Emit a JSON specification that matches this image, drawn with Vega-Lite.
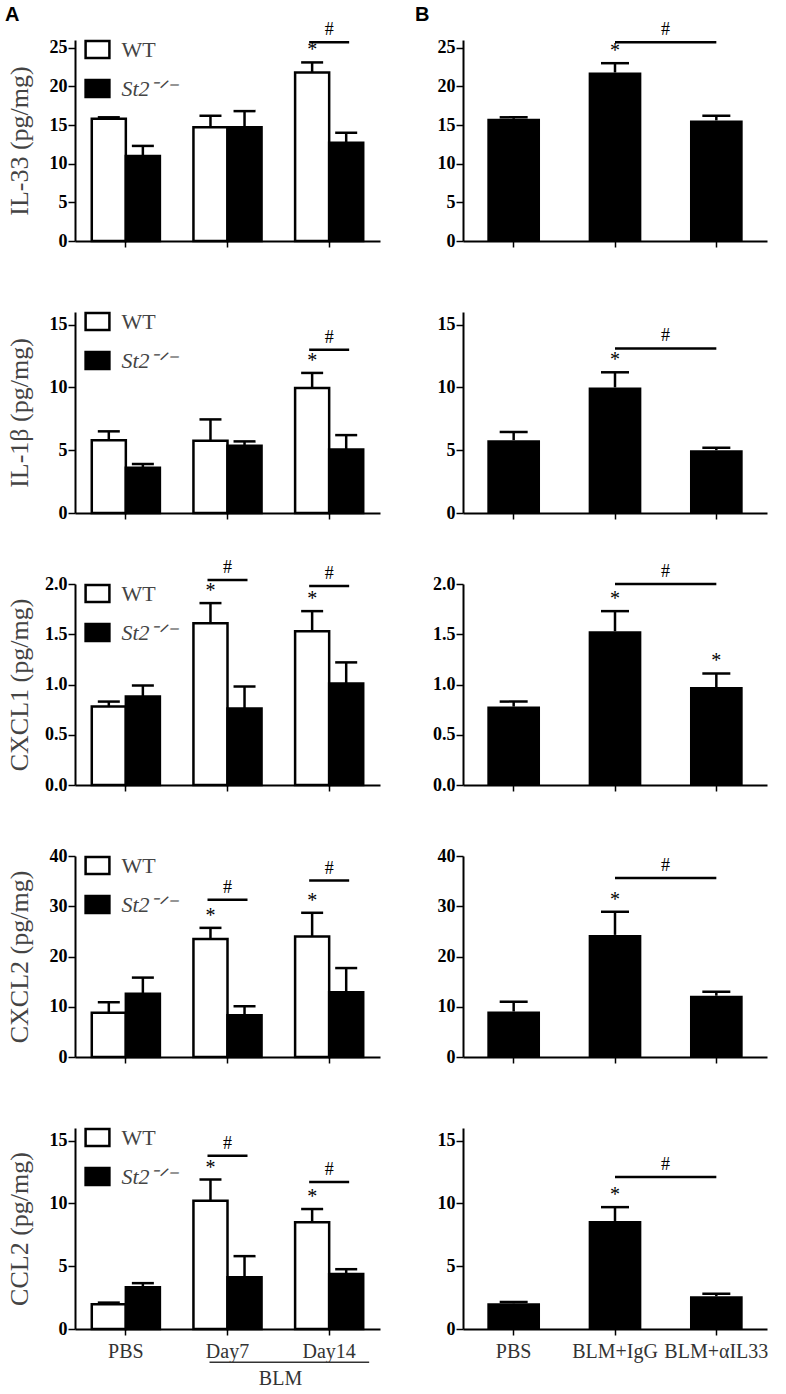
{
"$schema": "https://vega.github.io/schema/vega-lite/v6.json",
"padding": 5,
"background": "white",
"config": {
  "view": {"stroke": null},
  "font": "Liberation Serif",
  "tick": {"opacity": 1},
  "axis": {"domainColor": "black", "domainWidth": 2, "tickColor": "black", "tickWidth": 1.5, "grid": false, "labelFont": "Liberation Serif", "titleFont": "Liberation Serif", "titleFontWeight": "normal"},
  "axisY": {"tickSize": 7, "labelPadding": 1, "labelFontSize": 18, "labelFontWeight": "bold", "labelColor": "black", "titleFontSize": 26, "titleColor": "#444", "titleX": -48, "titleBaseline": "alphabetic"},
  "axisX": {"tickSize": 6, "labelPadding": 6, "labelFontSize": 20, "labelColor": "#333", "labelAngle": 0, "labels": false, "titleFontSize": 20, "titleColor": "#333"},
  "legend": {"symbolType": "M-1.4,-1H1.4V1H-1.4Z", "symbolSize": 289, "symbolStrokeColor": "black", "symbolStrokeWidth": 2.5, "labelFont": "Liberation Serif", "labelFontSize": 22, "labelColor": "#444", "labelOffset": 13, "rowPadding": 11, "padding": 0},
  "title": {"font": "Liberation Sans", "fontSize": 20, "fontWeight": "bold", "color": "black", "anchor": "start", "frame": "group"}
},
"datasets": {
  "il33A": [
    {"cat": "PBS", "grp": "WT", "mean": 15.8, "upper": 16.0, "sig": ""},
    {"cat": "PBS", "grp": "St2-/-", "mean": 11.0, "upper": 12.3, "sig": ""},
    {"cat": "Day7", "grp": "WT", "mean": 14.7, "upper": 16.2, "sig": ""},
    {"cat": "Day7", "grp": "St2-/-", "mean": 14.7, "upper": 16.8, "sig": ""},
    {"cat": "Day14", "grp": "WT", "mean": 21.8, "upper": 23.1, "sig": "*"},
    {"cat": "Day14", "grp": "St2-/-", "mean": 12.7, "upper": 14.0, "sig": ""}
  ],
  "il33Asig": [{"cat": "Day14", "y": 25.7, "sig": "#"}],
  "il33B": [
    {"cat": "PBS", "mean": 15.8, "upper": 16.0, "sig": ""},
    {"cat": "BLM+IgG", "mean": 21.8, "upper": 23.0, "sig": "*"},
    {"cat": "BLM+αIL33", "mean": 15.6, "upper": 16.2, "sig": ""}
  ],
  "il33Bsig": [{"from": "BLM+IgG", "to": "BLM+αIL33", "y": 25.7, "sig": "#"}],
  "il1bA": [
    {"cat": "PBS", "grp": "WT", "mean": 5.8, "upper": 6.5, "sig": ""},
    {"cat": "PBS", "grp": "St2-/-", "mean": 3.6, "upper": 3.9, "sig": ""},
    {"cat": "Day7", "grp": "WT", "mean": 5.75, "upper": 7.45, "sig": ""},
    {"cat": "Day7", "grp": "St2-/-", "mean": 5.35, "upper": 5.7, "sig": ""},
    {"cat": "Day14", "grp": "WT", "mean": 9.95, "upper": 11.15, "sig": "*"},
    {"cat": "Day14", "grp": "St2-/-", "mean": 5.05, "upper": 6.2, "sig": ""}
  ],
  "il1bAsig": [{"cat": "Day14", "y": 13.0, "sig": "#"}],
  "il1bB": [
    {"cat": "PBS", "mean": 5.8, "upper": 6.45, "sig": ""},
    {"cat": "BLM+IgG", "mean": 10.0, "upper": 11.2, "sig": "*"},
    {"cat": "BLM+αIL33", "mean": 5.0, "upper": 5.2, "sig": ""}
  ],
  "il1bBsig": [{"from": "BLM+IgG", "to": "BLM+αIL33", "y": 13.1, "sig": "#"}],
  "cxcl1A": [
    {"cat": "PBS", "grp": "WT", "mean": 0.78, "upper": 0.83, "sig": ""},
    {"cat": "PBS", "grp": "St2-/-", "mean": 0.88, "upper": 0.99, "sig": ""},
    {"cat": "Day7", "grp": "WT", "mean": 1.61, "upper": 1.81, "sig": "*"},
    {"cat": "Day7", "grp": "St2-/-", "mean": 0.76, "upper": 0.98, "sig": ""},
    {"cat": "Day14", "grp": "WT", "mean": 1.53, "upper": 1.73, "sig": "*"},
    {"cat": "Day14", "grp": "St2-/-", "mean": 1.01, "upper": 1.22, "sig": ""}
  ],
  "cxcl1Asig": [{"cat": "Day7", "y": 2.04, "sig": "#"}, {"cat": "Day14", "y": 1.98, "sig": "#"}],
  "cxcl1B": [
    {"cat": "PBS", "mean": 0.78, "upper": 0.83, "sig": ""},
    {"cat": "BLM+IgG", "mean": 1.53, "upper": 1.73, "sig": "*"},
    {"cat": "BLM+αIL33", "mean": 0.975, "upper": 1.11, "sig": "*"}
  ],
  "cxcl1Bsig": [{"from": "BLM+IgG", "to": "BLM+αIL33", "y": 2.0, "sig": "#"}],
  "cxcl2A": [
    {"cat": "PBS", "grp": "WT", "mean": 8.8, "upper": 10.9, "sig": ""},
    {"cat": "PBS", "grp": "St2-/-", "mean": 12.6, "upper": 15.8, "sig": ""},
    {"cat": "Day7", "grp": "WT", "mean": 23.5, "upper": 25.7, "sig": "*"},
    {"cat": "Day7", "grp": "St2-/-", "mean": 8.3, "upper": 10.1, "sig": ""},
    {"cat": "Day14", "grp": "WT", "mean": 24.0, "upper": 28.7, "sig": "*"},
    {"cat": "Day14", "grp": "St2-/-", "mean": 12.9, "upper": 17.7, "sig": ""}
  ],
  "cxcl2Asig": [{"cat": "Day7", "y": 31.3, "sig": "#"}, {"cat": "Day14", "y": 35.1, "sig": "#"}],
  "cxcl2B": [
    {"cat": "PBS", "mean": 9.05, "upper": 11.0, "sig": ""},
    {"cat": "BLM+IgG", "mean": 24.3, "upper": 28.9, "sig": "*"},
    {"cat": "BLM+αIL33", "mean": 12.2, "upper": 13.0, "sig": ""}
  ],
  "cxcl2Bsig": [{"from": "BLM+IgG", "to": "BLM+αIL33", "y": 35.6, "sig": "#"}],
  "ccl2A": [
    {"cat": "PBS", "grp": "WT", "mean": 1.97, "upper": 2.1, "sig": ""},
    {"cat": "PBS", "grp": "St2-/-", "mean": 3.33, "upper": 3.65, "sig": ""},
    {"cat": "Day7", "grp": "WT", "mean": 10.2, "upper": 11.9, "sig": "*"},
    {"cat": "Day7", "grp": "St2-/-", "mean": 4.12, "upper": 5.8, "sig": ""},
    {"cat": "Day14", "grp": "WT", "mean": 8.5, "upper": 9.55, "sig": "*"},
    {"cat": "Day14", "grp": "St2-/-", "mean": 4.37, "upper": 4.76, "sig": ""}
  ],
  "ccl2Asig": [{"cat": "Day7", "y": 13.8, "sig": "#"}, {"cat": "Day14", "y": 11.7, "sig": "#"}],
  "ccl2B": [
    {"cat": "PBS", "mean": 2.05, "upper": 2.15, "sig": ""},
    {"cat": "BLM+IgG", "mean": 8.6, "upper": 9.7, "sig": "*"},
    {"cat": "BLM+αIL33", "mean": 2.6, "upper": 2.8, "sig": ""}
  ],
  "ccl2Bsig": [{"from": "BLM+IgG", "to": "BLM+αIL33", "y": 12.1, "sig": "#"}]
},
"columns": 2,
"bounds": "flush",
"spacing": {"row": 71, "column": 83},
"resolve": {"scale": {"fill": "independent"}, "legend": {"fill": "independent"}},
"concat": [
  {
    "width": 305, "height": 201,
    "title": {"text": "A", "dx": -70, "offset": -4},
    "data": {"name": "il33A"},
    "encoding": {"x": {"field": "cat", "type": "nominal", "scale": {"domain": ["PBS", "Day7", "Day14"], "paddingInner": 0.33, "paddingOuter": 0.165}, "axis": {"title": null}}},
    "layer": [
      {"mark": {"type": "bar", "stroke": "black", "strokeWidth": 2.5},
       "encoding": {
         "xOffset": {"field": "grp", "type": "nominal", "scale": {"domain": ["WT", "St2-/-"]}},
         "y": {"field": "mean", "type": "quantitative", "scale": {"domain": [0, 25]}, "axis": {"values": [0, 5, 10, 15, 20, 25], "title": "IL-33 (pg/mg)"}},
         "fill": {"field": "grp", "type": "nominal", "scale": {"domain": ["WT", "St2-/-"], "range": ["white", "black"]},
           "legend": {"orient": "none", "legendX": 11.5, "legendY": -1.5, "direction": "vertical", "title": null, "labelExpr": "datum.value == 'WT' ? 'WT' : 'St2⁻ᐟ⁻'", "labelFontStyle": {"expr": "datum.value == 'WT' ? 'normal' : 'italic'"}}}}},
      {"mark": {"type": "rule", "color": "black", "strokeWidth": 2.5},
       "encoding": {"xOffset": {"field": "grp", "type": "nominal"}, "y": {"field": "mean", "type": "quantitative"}, "y2": {"field": "upper"}}},
      {"mark": {"type": "tick", "color": "black", "orient": "horizontal", "size": 22, "thickness": 2.5},
       "encoding": {"xOffset": {"field": "grp", "type": "nominal"}, "y": {"field": "upper", "type": "quantitative"}}},
      {"mark": {"type": "text", "fontSize": 20, "dy": -12, "baseline": "middle", "color": "black"},
       "encoding": {"xOffset": {"field": "grp", "type": "nominal"}, "y": {"field": "upper", "type": "quantitative"}, "text": {"field": "sig"}}},
      {"data": {"name": "il33Asig"}, "mark": {"type": "tick", "color": "black", "orient": "horizontal", "size": 40, "thickness": 2.5},
       "encoding": {"y": {"field": "y", "type": "quantitative"}}},
      {"data": {"name": "il33Asig"}, "mark": {"type": "text", "fontSize": 18, "dy": -12, "baseline": "middle", "color": "black"},
       "encoding": {"y": {"field": "y", "type": "quantitative"}, "text": {"field": "sig"}}}
    ]
  },
  {
    "width": 304, "height": 201,
    "title": {"text": "B", "dx": -48, "offset": -4},
    "data": {"name": "il33B"},
    "encoding": {"x": {"field": "cat", "type": "nominal", "scale": {"domain": ["PBS", "BLM+IgG", "BLM+αIL33"], "paddingInner": 0.48, "paddingOuter": 0.24}, "axis": {"title": null}}},
    "layer": [
      {"mark": {"type": "bar", "color": "black"},
       "encoding": {"y": {"field": "mean", "type": "quantitative", "scale": {"domain": [0, 25]}, "axis": {"values": [0, 5, 10, 15, 20, 25], "title": null}}}},
      {"mark": {"type": "rule", "color": "black", "strokeWidth": 2.5},
       "encoding": {"y": {"field": "mean", "type": "quantitative"}, "y2": {"field": "upper"}}},
      {"mark": {"type": "tick", "color": "black", "orient": "horizontal", "size": 28, "thickness": 2.5},
       "encoding": {"y": {"field": "upper", "type": "quantitative"}}},
      {"mark": {"type": "text", "fontSize": 20, "dy": -12, "baseline": "middle", "color": "black"},
       "encoding": {"y": {"field": "upper", "type": "quantitative"}, "text": {"field": "sig"}}},
      {"data": {"name": "il33Bsig"}, "mark": {"type": "rule", "color": "black", "strokeWidth": 2.5},
       "encoding": {"x": {"field": "from", "type": "nominal"}, "x2": {"field": "to"}, "y": {"field": "y", "type": "quantitative"}}},
      {"data": {"name": "il33Bsig"}, "mark": {"type": "text", "fontSize": 18, "dy": -12, "dx": 50.5, "baseline": "middle", "color": "black"},
       "encoding": {"x": {"field": "from", "type": "nominal"}, "y": {"field": "y", "type": "quantitative"}, "text": {"field": "sig"}}}
    ]
  },
  {
    "width": 305, "height": 201,
    "data": {"name": "il1bA"},
    "encoding": {"x": {"field": "cat", "type": "nominal", "scale": {"domain": ["PBS", "Day7", "Day14"], "paddingInner": 0.33, "paddingOuter": 0.165}, "axis": {"title": null}}},
    "layer": [
      {"mark": {"type": "bar", "stroke": "black", "strokeWidth": 2.5},
       "encoding": {
         "xOffset": {"field": "grp", "type": "nominal", "scale": {"domain": ["WT", "St2-/-"]}},
         "y": {"field": "mean", "type": "quantitative", "scale": {"domain": [0, 15]}, "axis": {"values": [0, 5, 10, 15], "title": "IL-1β (pg/mg)"}},
         "fill": {"field": "grp", "type": "nominal", "scale": {"domain": ["WT", "St2-/-"], "range": ["white", "black"]},
           "legend": {"orient": "none", "legendX": 11.5, "legendY": -1.5, "direction": "vertical", "title": null, "labelExpr": "datum.value == 'WT' ? 'WT' : 'St2⁻ᐟ⁻'", "labelFontStyle": {"expr": "datum.value == 'WT' ? 'normal' : 'italic'"}}}}},
      {"mark": {"type": "rule", "color": "black", "strokeWidth": 2.5},
       "encoding": {"xOffset": {"field": "grp", "type": "nominal"}, "y": {"field": "mean", "type": "quantitative"}, "y2": {"field": "upper"}}},
      {"mark": {"type": "tick", "color": "black", "orient": "horizontal", "size": 22, "thickness": 2.5},
       "encoding": {"xOffset": {"field": "grp", "type": "nominal"}, "y": {"field": "upper", "type": "quantitative"}}},
      {"mark": {"type": "text", "fontSize": 20, "dy": -12, "baseline": "middle", "color": "black"},
       "encoding": {"xOffset": {"field": "grp", "type": "nominal"}, "y": {"field": "upper", "type": "quantitative"}, "text": {"field": "sig"}}},
      {"data": {"name": "il1bAsig"}, "mark": {"type": "tick", "color": "black", "orient": "horizontal", "size": 40, "thickness": 2.5},
       "encoding": {"y": {"field": "y", "type": "quantitative"}}},
      {"data": {"name": "il1bAsig"}, "mark": {"type": "text", "fontSize": 18, "dy": -12, "baseline": "middle", "color": "black"},
       "encoding": {"y": {"field": "y", "type": "quantitative"}, "text": {"field": "sig"}}}
    ]
  },
  {
    "width": 304, "height": 201,
    "data": {"name": "il1bB"},
    "encoding": {"x": {"field": "cat", "type": "nominal", "scale": {"domain": ["PBS", "BLM+IgG", "BLM+αIL33"], "paddingInner": 0.48, "paddingOuter": 0.24}, "axis": {"title": null}}},
    "layer": [
      {"mark": {"type": "bar", "color": "black"},
       "encoding": {"y": {"field": "mean", "type": "quantitative", "scale": {"domain": [0, 15]}, "axis": {"values": [0, 5, 10, 15], "title": null}}}},
      {"mark": {"type": "rule", "color": "black", "strokeWidth": 2.5},
       "encoding": {"y": {"field": "mean", "type": "quantitative"}, "y2": {"field": "upper"}}},
      {"mark": {"type": "tick", "color": "black", "orient": "horizontal", "size": 28, "thickness": 2.5},
       "encoding": {"y": {"field": "upper", "type": "quantitative"}}},
      {"mark": {"type": "text", "fontSize": 20, "dy": -12, "baseline": "middle", "color": "black"},
       "encoding": {"y": {"field": "upper", "type": "quantitative"}, "text": {"field": "sig"}}},
      {"data": {"name": "il1bBsig"}, "mark": {"type": "rule", "color": "black", "strokeWidth": 2.5},
       "encoding": {"x": {"field": "from", "type": "nominal"}, "x2": {"field": "to"}, "y": {"field": "y", "type": "quantitative"}}},
      {"data": {"name": "il1bBsig"}, "mark": {"type": "text", "fontSize": 18, "dy": -12, "dx": 50.5, "baseline": "middle", "color": "black"},
       "encoding": {"x": {"field": "from", "type": "nominal"}, "y": {"field": "y", "type": "quantitative"}, "text": {"field": "sig"}}}
    ]
  },
  {
    "width": 305, "height": 201,
    "data": {"name": "cxcl1A"},
    "encoding": {"x": {"field": "cat", "type": "nominal", "scale": {"domain": ["PBS", "Day7", "Day14"], "paddingInner": 0.33, "paddingOuter": 0.165}, "axis": {"title": null}}},
    "layer": [
      {"mark": {"type": "bar", "stroke": "black", "strokeWidth": 2.5},
       "encoding": {
         "xOffset": {"field": "grp", "type": "nominal", "scale": {"domain": ["WT", "St2-/-"]}},
         "y": {"field": "mean", "type": "quantitative", "scale": {"domain": [0, 2]}, "axis": {"values": [0, 0.5, 1, 1.5, 2], "format": ".1f", "title": "CXCL1 (pg/mg)"}},
         "fill": {"field": "grp", "type": "nominal", "scale": {"domain": ["WT", "St2-/-"], "range": ["white", "black"]},
           "legend": {"orient": "none", "legendX": 11.5, "legendY": -1.5, "direction": "vertical", "title": null, "labelExpr": "datum.value == 'WT' ? 'WT' : 'St2⁻ᐟ⁻'", "labelFontStyle": {"expr": "datum.value == 'WT' ? 'normal' : 'italic'"}}}}},
      {"mark": {"type": "rule", "color": "black", "strokeWidth": 2.5},
       "encoding": {"xOffset": {"field": "grp", "type": "nominal"}, "y": {"field": "mean", "type": "quantitative"}, "y2": {"field": "upper"}}},
      {"mark": {"type": "tick", "color": "black", "orient": "horizontal", "size": 22, "thickness": 2.5},
       "encoding": {"xOffset": {"field": "grp", "type": "nominal"}, "y": {"field": "upper", "type": "quantitative"}}},
      {"mark": {"type": "text", "fontSize": 20, "dy": -12, "baseline": "middle", "color": "black"},
       "encoding": {"xOffset": {"field": "grp", "type": "nominal"}, "y": {"field": "upper", "type": "quantitative"}, "text": {"field": "sig"}}},
      {"data": {"name": "cxcl1Asig"}, "mark": {"type": "tick", "color": "black", "orient": "horizontal", "size": 40, "thickness": 2.5},
       "encoding": {"y": {"field": "y", "type": "quantitative"}}},
      {"data": {"name": "cxcl1Asig"}, "mark": {"type": "text", "fontSize": 18, "dy": -12, "baseline": "middle", "color": "black"},
       "encoding": {"y": {"field": "y", "type": "quantitative"}, "text": {"field": "sig"}}}
    ]
  },
  {
    "width": 304, "height": 201,
    "data": {"name": "cxcl1B"},
    "encoding": {"x": {"field": "cat", "type": "nominal", "scale": {"domain": ["PBS", "BLM+IgG", "BLM+αIL33"], "paddingInner": 0.48, "paddingOuter": 0.24}, "axis": {"title": null}}},
    "layer": [
      {"mark": {"type": "bar", "color": "black"},
       "encoding": {"y": {"field": "mean", "type": "quantitative", "scale": {"domain": [0, 2]}, "axis": {"values": [0, 0.5, 1, 1.5, 2], "format": ".1f", "title": null}}}},
      {"mark": {"type": "rule", "color": "black", "strokeWidth": 2.5},
       "encoding": {"y": {"field": "mean", "type": "quantitative"}, "y2": {"field": "upper"}}},
      {"mark": {"type": "tick", "color": "black", "orient": "horizontal", "size": 28, "thickness": 2.5},
       "encoding": {"y": {"field": "upper", "type": "quantitative"}}},
      {"mark": {"type": "text", "fontSize": 20, "dy": -12, "baseline": "middle", "color": "black"},
       "encoding": {"y": {"field": "upper", "type": "quantitative"}, "text": {"field": "sig"}}},
      {"data": {"name": "cxcl1Bsig"}, "mark": {"type": "rule", "color": "black", "strokeWidth": 2.5},
       "encoding": {"x": {"field": "from", "type": "nominal"}, "x2": {"field": "to"}, "y": {"field": "y", "type": "quantitative"}}},
      {"data": {"name": "cxcl1Bsig"}, "mark": {"type": "text", "fontSize": 18, "dy": -12, "dx": 50.5, "baseline": "middle", "color": "black"},
       "encoding": {"x": {"field": "from", "type": "nominal"}, "y": {"field": "y", "type": "quantitative"}, "text": {"field": "sig"}}}
    ]
  },
  {
    "width": 305, "height": 201,
    "data": {"name": "cxcl2A"},
    "encoding": {"x": {"field": "cat", "type": "nominal", "scale": {"domain": ["PBS", "Day7", "Day14"], "paddingInner": 0.33, "paddingOuter": 0.165}, "axis": {"title": null}}},
    "layer": [
      {"mark": {"type": "bar", "stroke": "black", "strokeWidth": 2.5},
       "encoding": {
         "xOffset": {"field": "grp", "type": "nominal", "scale": {"domain": ["WT", "St2-/-"]}},
         "y": {"field": "mean", "type": "quantitative", "scale": {"domain": [0, 40]}, "axis": {"values": [0, 10, 20, 30, 40], "title": "CXCL2 (pg/mg)"}},
         "fill": {"field": "grp", "type": "nominal", "scale": {"domain": ["WT", "St2-/-"], "range": ["white", "black"]},
           "legend": {"orient": "none", "legendX": 11.5, "legendY": -1.5, "direction": "vertical", "title": null, "labelExpr": "datum.value == 'WT' ? 'WT' : 'St2⁻ᐟ⁻'", "labelFontStyle": {"expr": "datum.value == 'WT' ? 'normal' : 'italic'"}}}}},
      {"mark": {"type": "rule", "color": "black", "strokeWidth": 2.5},
       "encoding": {"xOffset": {"field": "grp", "type": "nominal"}, "y": {"field": "mean", "type": "quantitative"}, "y2": {"field": "upper"}}},
      {"mark": {"type": "tick", "color": "black", "orient": "horizontal", "size": 22, "thickness": 2.5},
       "encoding": {"xOffset": {"field": "grp", "type": "nominal"}, "y": {"field": "upper", "type": "quantitative"}}},
      {"mark": {"type": "text", "fontSize": 20, "dy": -12, "baseline": "middle", "color": "black"},
       "encoding": {"xOffset": {"field": "grp", "type": "nominal"}, "y": {"field": "upper", "type": "quantitative"}, "text": {"field": "sig"}}},
      {"data": {"name": "cxcl2Asig"}, "mark": {"type": "tick", "color": "black", "orient": "horizontal", "size": 40, "thickness": 2.5},
       "encoding": {"y": {"field": "y", "type": "quantitative"}}},
      {"data": {"name": "cxcl2Asig"}, "mark": {"type": "text", "fontSize": 18, "dy": -12, "baseline": "middle", "color": "black"},
       "encoding": {"y": {"field": "y", "type": "quantitative"}, "text": {"field": "sig"}}}
    ]
  },
  {
    "width": 304, "height": 201,
    "data": {"name": "cxcl2B"},
    "encoding": {"x": {"field": "cat", "type": "nominal", "scale": {"domain": ["PBS", "BLM+IgG", "BLM+αIL33"], "paddingInner": 0.48, "paddingOuter": 0.24}, "axis": {"title": null}}},
    "layer": [
      {"mark": {"type": "bar", "color": "black"},
       "encoding": {"y": {"field": "mean", "type": "quantitative", "scale": {"domain": [0, 40]}, "axis": {"values": [0, 10, 20, 30, 40], "title": null}}}},
      {"mark": {"type": "rule", "color": "black", "strokeWidth": 2.5},
       "encoding": {"y": {"field": "mean", "type": "quantitative"}, "y2": {"field": "upper"}}},
      {"mark": {"type": "tick", "color": "black", "orient": "horizontal", "size": 28, "thickness": 2.5},
       "encoding": {"y": {"field": "upper", "type": "quantitative"}}},
      {"mark": {"type": "text", "fontSize": 20, "dy": -12, "baseline": "middle", "color": "black"},
       "encoding": {"y": {"field": "upper", "type": "quantitative"}, "text": {"field": "sig"}}},
      {"data": {"name": "cxcl2Bsig"}, "mark": {"type": "rule", "color": "black", "strokeWidth": 2.5},
       "encoding": {"x": {"field": "from", "type": "nominal"}, "x2": {"field": "to"}, "y": {"field": "y", "type": "quantitative"}}},
      {"data": {"name": "cxcl2Bsig"}, "mark": {"type": "text", "fontSize": 18, "dy": -12, "dx": 50.5, "baseline": "middle", "color": "black"},
       "encoding": {"x": {"field": "from", "type": "nominal"}, "y": {"field": "y", "type": "quantitative"}, "text": {"field": "sig"}}}
    ]
  },
  {
    "width": 305, "height": 201,
    "data": {"name": "ccl2A"},
    "encoding": {"x": {"field": "cat", "type": "nominal", "scale": {"domain": ["PBS", "Day7", "Day14"], "paddingInner": 0.33, "paddingOuter": 0.165}, "axis": {"labels": true, "title": "BLM", "titleX": 205, "titleY": 55, "titleBaseline": "alphabetic"}}},
    "layer": [
      {"mark": {"type": "bar", "stroke": "black", "strokeWidth": 2.5},
       "encoding": {
         "xOffset": {"field": "grp", "type": "nominal", "scale": {"domain": ["WT", "St2-/-"]}},
         "y": {"field": "mean", "type": "quantitative", "scale": {"domain": [0, 15]}, "axis": {"values": [0, 5, 10, 15], "title": "CCL2 (pg/mg)"}},
         "fill": {"field": "grp", "type": "nominal", "scale": {"domain": ["WT", "St2-/-"], "range": ["white", "black"]},
           "legend": {"orient": "none", "legendX": 11.5, "legendY": -1.5, "direction": "vertical", "title": null, "labelExpr": "datum.value == 'WT' ? 'WT' : 'St2⁻ᐟ⁻'", "labelFontStyle": {"expr": "datum.value == 'WT' ? 'normal' : 'italic'"}}}}},
      {"mark": {"type": "rule", "color": "black", "strokeWidth": 2.5},
       "encoding": {"xOffset": {"field": "grp", "type": "nominal"}, "y": {"field": "mean", "type": "quantitative"}, "y2": {"field": "upper"}}},
      {"mark": {"type": "tick", "color": "black", "orient": "horizontal", "size": 22, "thickness": 2.5},
       "encoding": {"xOffset": {"field": "grp", "type": "nominal"}, "y": {"field": "upper", "type": "quantitative"}}},
      {"mark": {"type": "text", "fontSize": 20, "dy": -12, "baseline": "middle", "color": "black"},
       "encoding": {"xOffset": {"field": "grp", "type": "nominal"}, "y": {"field": "upper", "type": "quantitative"}, "text": {"field": "sig"}}},
      {"data": {"name": "ccl2Asig"}, "mark": {"type": "tick", "color": "black", "orient": "horizontal", "size": 40, "thickness": 2.5},
       "encoding": {"y": {"field": "y", "type": "quantitative"}}},
      {"data": {"name": "ccl2Asig"}, "mark": {"type": "text", "fontSize": 18, "dy": -12, "baseline": "middle", "color": "black"},
       "encoding": {"y": {"field": "y", "type": "quantitative"}, "text": {"field": "sig"}}},
      {"data": {"values": [{"from": "Day7", "to": "Day14", "y": -2.64}]}, "mark": {"type": "rule", "color": "#333", "strokeWidth": 1.5, "xOffset": -18, "x2Offset": 40},
       "encoding": {"x": {"field": "from", "type": "nominal"}, "x2": {"field": "to"}, "y": {"field": "y", "type": "quantitative"}}}
    ]
  },
  {
    "width": 304, "height": 201,
    "data": {"name": "ccl2B"},
    "encoding": {"x": {"field": "cat", "type": "nominal", "scale": {"domain": ["PBS", "BLM+IgG", "BLM+αIL33"], "paddingInner": 0.48, "paddingOuter": 0.24}, "axis": {"labels": true, "title": null}}},
    "layer": [
      {"mark": {"type": "bar", "color": "black"},
       "encoding": {"y": {"field": "mean", "type": "quantitative", "scale": {"domain": [0, 15]}, "axis": {"values": [0, 5, 10, 15], "title": null}}}},
      {"mark": {"type": "rule", "color": "black", "strokeWidth": 2.5},
       "encoding": {"y": {"field": "mean", "type": "quantitative"}, "y2": {"field": "upper"}}},
      {"mark": {"type": "tick", "color": "black", "orient": "horizontal", "size": 28, "thickness": 2.5},
       "encoding": {"y": {"field": "upper", "type": "quantitative"}}},
      {"mark": {"type": "text", "fontSize": 20, "dy": -12, "baseline": "middle", "color": "black"},
       "encoding": {"y": {"field": "upper", "type": "quantitative"}, "text": {"field": "sig"}}},
      {"data": {"name": "ccl2Bsig"}, "mark": {"type": "rule", "color": "black", "strokeWidth": 2.5},
       "encoding": {"x": {"field": "from", "type": "nominal"}, "x2": {"field": "to"}, "y": {"field": "y", "type": "quantitative"}}},
      {"data": {"name": "ccl2Bsig"}, "mark": {"type": "text", "fontSize": 18, "dy": -12, "dx": 50.5, "baseline": "middle", "color": "black"},
       "encoding": {"x": {"field": "from", "type": "nominal"}, "y": {"field": "y", "type": "quantitative"}, "text": {"field": "sig"}}}
    ]
  }
]
}
